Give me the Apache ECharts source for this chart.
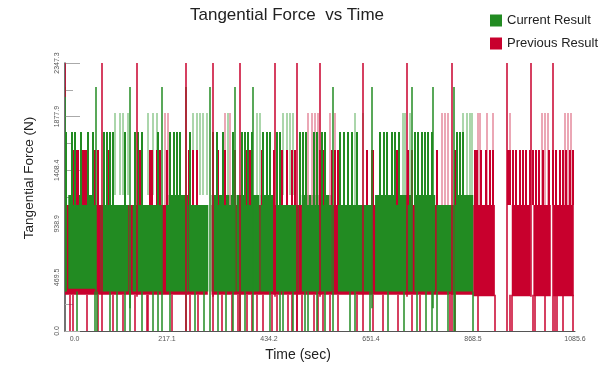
<!DOCTYPE html>
<html>
<head>
<meta charset="utf-8">
<script src="https://cdn.jsdelivr.net/npm/echarts@6/dist/echarts.min.js"></script>
<style>
html,body{margin:0;padding:0;background:#fff;}
#chart{width:608px;height:367px;}
</style>
</head>
<body>
<div id="chart"></div>
<script>
// ---- Data (time in sec, force in N) ----
const xMax = 1085.6;
const yMax = 2347.33;
const xTickStep = 217.12;
const yTickStep = 469.466;

// dense oscillation bands: [tStart, tEnd, low, high]
const currentBlocks = [
  [0,4,345,1743],[7,66,370,1191],[76,135,345,1104],[144,206,345,1104],[215,262,345,1191],
  [263,305,345,1104],[312,362,345,1191],[365,414,345,1191],[416,443,345,1191],
  [449,497,345,1104],[504,568,345,1191],[581,653,345,1104],[660,738,345,1191],
  [744,788,345,1191],[791,827,345,1104],[830,869,345,1191]
];
const previousBlocks = [
  [0,304,318,1104],[312,869,318,1104],[869,915,305,1104],[951,991,305,1104],[997,1034,305,1104],[1039,1083,305,1104]
];

// vertical excursions: [t, low, high]
const currentTall = [
  [1,345,2137],[67,345,2137],[138,200,2137],[206,345,2137],[258,345,2137],[309,0,2137],
  [362,345,2137],[400,345,2137],[570,345,2137],[653,200,2137],[738,345,2137],
  [783,200,2137],[828,0,2137]
];
const currentFaint = [
  [106,1191,1909],[117,1191,1909],[124,1191,1909],[135,1191,1909],[177,1191,1909],
  [188,1191,1909],[195,1191,1909],[273,1191,1909],[280,1191,1909],[287,1191,1909],
  [294,1191,1909],[302,1191,1909],[348,1191,1909],[408,1191,1909],[415,1191,1909],
  [465,1191,1909],[472,1191,1909],[479,1191,1909],[486,1191,1909],[617,1104,1909],
  [635,1104,1909],[720,1191,1909],[724,1191,1909],[734,1191,1909],[848,1191,1909],
  [855,1191,1909],[862,1191,1909],[866,1191,1909]
];
const currentMid = [
  [0.5,1104,1743],[3,1104,1743],[14,1104,1743],[21,1104,1743],[35,1104,1743],[50,1104,1743],
  [60,1104,1743],[82,1104,1743],[89,1104,1743],[96,1104,1743],[103,1104,1743],[128,1104,1743],
  [149,1104,1743],[156,1104,1743],[163,1104,1743],[199,1104,1743],[224,1104,1743],
  [231,1104,1743],[238,1104,1743],[245,1104,1743],[266,1104,1743],[316,1104,1743],
  [323,1104,1743],[337,1104,1743],[358,1104,1743],[376,1104,1743],[383,1104,1743],
  [390,1104,1743],[397,1104,1743],[422,1104,1743],[429,1104,1743],[436,1104,1743],
  [451,1104,1743],[458,1104,1743],[500,1104,1743],[507,1104,1743],[514,1104,1743],
  [529,1104,1743],[536,1104,1743],[546,1104,1743],[553,1104,1743],[585,1104,1743],
  [593,1104,1743],[603,1104,1743],[610,1104,1743],[621,1104,1743],[671,1104,1743],
  [678,1104,1743],[685,1104,1743],[695,1104,1743],[702,1104,1743],[710,1104,1743],
  [745,1104,1743],[752,1104,1743],[759,1104,1743],[766,1104,1743],[773,1104,1743],
  [781,1104,1743],[834,1104,1743],[841,1104,1743],[848,1104,1743]
];
const currentLow = [
  [25,0,345],[64,0,345],[68,0,345],[96,0,345],[110,0,345],[128,0,345],[138,0,345],
  [163,0,345],[187,0,345],[198,0,345],[206,0,345],[224,0,345],[258,0,345],[277,0,345],
  [296,0,345],[326,0,345],[343,0,345],[358,0,345],[373,0,345],[383,0,345],[401,0,345],
  [436,0,345],[458,0,345],[465,0,345],[486,0,345],[511,0,345],[518,0,345],[536,0,345],
  [553,0,345],[571,0,345],[607,0,345],[617,0,345],[649,0,345],[688,0,345],[722,0,345],
  [749,0,345],[768,0,345],[781,0,345],[791,0,345],[816,0,345],[830,0,345],[868,0,345]
];

const previousTall = [
  [0.5,2050,2347],[78,0,2347],[153,300,2347],[258,0,2347],[314,300,2347],[372,0,2347],
  [447,300,2347],[494,0,2347],[543,300,2347],[634,0,2347],[728,300,2347],[824,0,2347],
  [941,0,2347],[991,300,2347],[1038,0,2347]
];
const previousFaint = [
  [213,1104,1909],[220,1104,1909],[340,1104,1909],[351,1104,1909],[518,1104,1909],
  [525,1104,1909],[532,1104,1909],[539,1104,1909],[564,1104,1909],[575,1104,1909],
  [802,1104,1909],[809,1104,1909],[816,1104,1909],[880,1104,1909],[883,1104,1909],
  [898,1104,1909],[912,1104,1909],[947,1104,1909],[1015,1104,1909],[1022,1104,1909],
  [1029,1104,1909],[1064,1104,1909],[1071,1104,1909],[1078,1104,1909]
];
const previousMid = [
  [18,1104,1585],[25,1104,1585],[28,1104,1585],[39,1104,1585],[43,1104,1585],[46,1104,1585],
  [64,1104,1585],[71,1104,1585],[92,1104,1585],[160,1104,1585],[181,1104,1585],
  [185,1104,1585],[195,1104,1585],[202,1104,1585],[218,1104,1585],[263,1104,1585],
  [273,1104,1585],[280,1104,1585],[326,1104,1585],[341,1104,1585],[362,1104,1585],
  [387,1104,1585],[394,1104,1585],[419,1104,1585],[444,1104,1585],[461,1104,1585],
  [472,1104,1585],[483,1104,1585],[490,1104,1585],[543,1104,1585],[550,1104,1585],
  [568,1104,1585],[575,1104,1585],[582,1104,1585],[610,1104,1585],[642,1104,1585],
  [653,1104,1585],[656,1104,1585],[706,1104,1585],[731,1104,1585],[738,1104,1585],
  [745,1104,1585],[791,1104,1585],[830,1104,1585],[834,1104,1585],[872,1104,1585],
  [876,1104,1585],[886,1104,1585],[897,1104,1585],[904,1104,1585],[911,1104,1585],
  [944,1104,1585],[947,1104,1585],[954,1104,1585],[961,1104,1585],[968,1104,1585],
  [975,1104,1585],[982,1104,1585],[989,1104,1585],[996,1104,1585],[1003,1104,1585],
  [1010,1104,1585],[1017,1104,1585],[1031,1104,1585],[1038,1104,1585],[1045,1104,1585],
  [1053,1104,1585],[1060,1104,1585],[1067,1104,1585],[1074,1104,1585],[1081,1104,1585]
];
const previousLow = [
  [11,0,318],[18,0,318],[46,0,318],[71,0,318],[103,0,318],[124,0,318],[149,0,318],
  [174,0,318],[177,0,318],[227,0,318],[266,0,318],[283,0,318],[315,0,318],[334,0,318],
  [355,0,318],[369,0,318],[387,0,318],[397,0,318],[408,0,318],[422,0,318],[440,0,318],
  [451,0,318],[475,0,318],[483,0,318],[493,0,318],[504,0,318],[529,0,318],[539,0,318],
  [550,0,318],[564,0,318],[582,0,318],[621,0,318],[656,0,318],[677,0,318],[709,0,318],
  [739,0,318],[756,0,318],[820,0,318],[830,0,318],[880,0,318],[915,0,318],[947,0,318],
  [951,0,318],[997,0,318],[1000,0,318],[1022,0,318],[1043,0,318],[1047,0,318],
  [1061,0,318],[1082,0,318]
];

// ---- Styling ----
const GREEN = '#228b22';
const GREEN_FAINT = '#8fc98f';
const RED = '#c8002d';
const RED_FAINT = '#e58a9c';
const FONT = 'Liberation Sans, Arial, sans-serif';

function blockSeries(name, data, color, z) {
  return {
    type: 'custom', name, data, z, silent: true, clip: true,
    encode: { x: [0, 1], y: [2, 3] },
    renderItem: function (params, api) {
      const a = api.coord([api.value(0), api.value(3)]);
      const b = api.coord([api.value(1), api.value(2)]);
      return { type: 'rect', shape: { x: a[0], y: a[1], width: b[0] - a[0], height: b[1] - a[1] },
               style: { fill: color } };
    }
  };
}
function spikeSeries(name, data, color, width, z) {
  return {
    type: 'custom', name, data, z, silent: true, clip: true,
    encode: { x: 0, y: [1, 2] },
    renderItem: function (params, api) {
      const a = api.coord([api.value(0), api.value(1)]);
      const b = api.coord([api.value(0), api.value(2)]);
      const x = Math.round(a[0]) + (width % 2 === 1 ? 0.5 : 0);
      return { type: 'line', shape: { x1: x, y1: a[1], x2: x, y2: b[1] },
               style: { stroke: color, lineWidth: width } };
    }
  };
}

const chart = echarts.init(document.getElementById('chart'), null, { renderer: 'canvas' });
chart.setOption({
  animation: false,
  backgroundColor: '#fff',
  textStyle: { fontFamily: FONT },
  title: {
    text: 'Tangential Force  vs Time',
    left: 185, top: 2,
    textStyle: { fontFamily: FONT, fontSize: 17, fontWeight: 'normal', color: '#222' }
  },
  legend: {
    orient: 'vertical', left: 485, top: 9,
    itemWidth: 12, itemHeight: 12, itemGap: 10, icon: 'rect',
    textStyle: { fontFamily: FONT, fontSize: 13, color: '#222' },
    data: [
      { name: 'Current Result', itemStyle: { color: GREEN } },
      { name: 'Previous Result', itemStyle: { color: RED } }
    ]
  },
  grid: { left: 65, right: 33, top: 63, bottom: 36 },
  xAxis: {
    type: 'value', min: 0, max: xMax, interval: xTickStep,
    name: 'Time (sec)', nameLocation: 'middle', nameGap: 16,
    nameTextStyle: { fontFamily: FONT, fontSize: 14, color: '#222', padding: [0, 44, 0, 0] },
    axisLine: { show: true, lineStyle: { color: '#555', width: 1 } },
    axisTick: { show: false },
    splitLine: { show: false },
    axisLabel: {
      fontSize: 7, color: '#555', margin: 5,
      formatter: function (v, i) { return i === 0 ? '{f|' + v.toFixed(1) + '}' : v.toFixed(1); },
      rich: { f: { fontSize: 7, color: '#555', padding: [0, 0, 0, 19] } }
    }
  },
  yAxis: {
    type: 'value', min: 0, max: yMax, interval: yTickStep,
    name: 'Tangential Force (N)', nameLocation: 'middle', nameGap: 29,
    nameTextStyle: { fontFamily: FONT, fontSize: 13.5, color: '#222', padding: [0, 0, 0, 38] },
    axisLine: { show: true, lineStyle: { color: '#444', width: 1.5 } },
    axisTick: { show: true, inside: true, length: 15, lineStyle: { color: '#aaa' } },
    minorTick: { show: true, splitNumber: 2, length: 8, lineStyle: { color: '#aaa' } },
    splitLine: { show: false },
    axisLabel: { rotate: 90, fontSize: 7, color: '#555', margin: 4,
                 formatter: function (v) { return v.toFixed(1); } }
  },
  series: [
    blockSeries('Previous Result', previousBlocks, RED, 2),
    spikeSeries('Previous Result', previousLow, RED, 1.5, 2),
    spikeSeries('Current Result', currentLow, GREEN, 1.5, 3),
    blockSeries('Current Result', currentBlocks, GREEN, 3),
    spikeSeries('Previous Result', previousFaint, RED_FAINT, 1.5, 4),
    spikeSeries('Current Result', currentFaint, GREEN_FAINT, 1.5, 4),
    spikeSeries('Previous Result', previousMid, RED, 2, 5),
    spikeSeries('Current Result', currentMid, GREEN, 2, 6),
    spikeSeries('Current Result', currentTall, GREEN, 1.5, 7),
    spikeSeries('Previous Result', previousTall, RED, 1.5, 8)
  ]
});
</script>
</body>
</html>
